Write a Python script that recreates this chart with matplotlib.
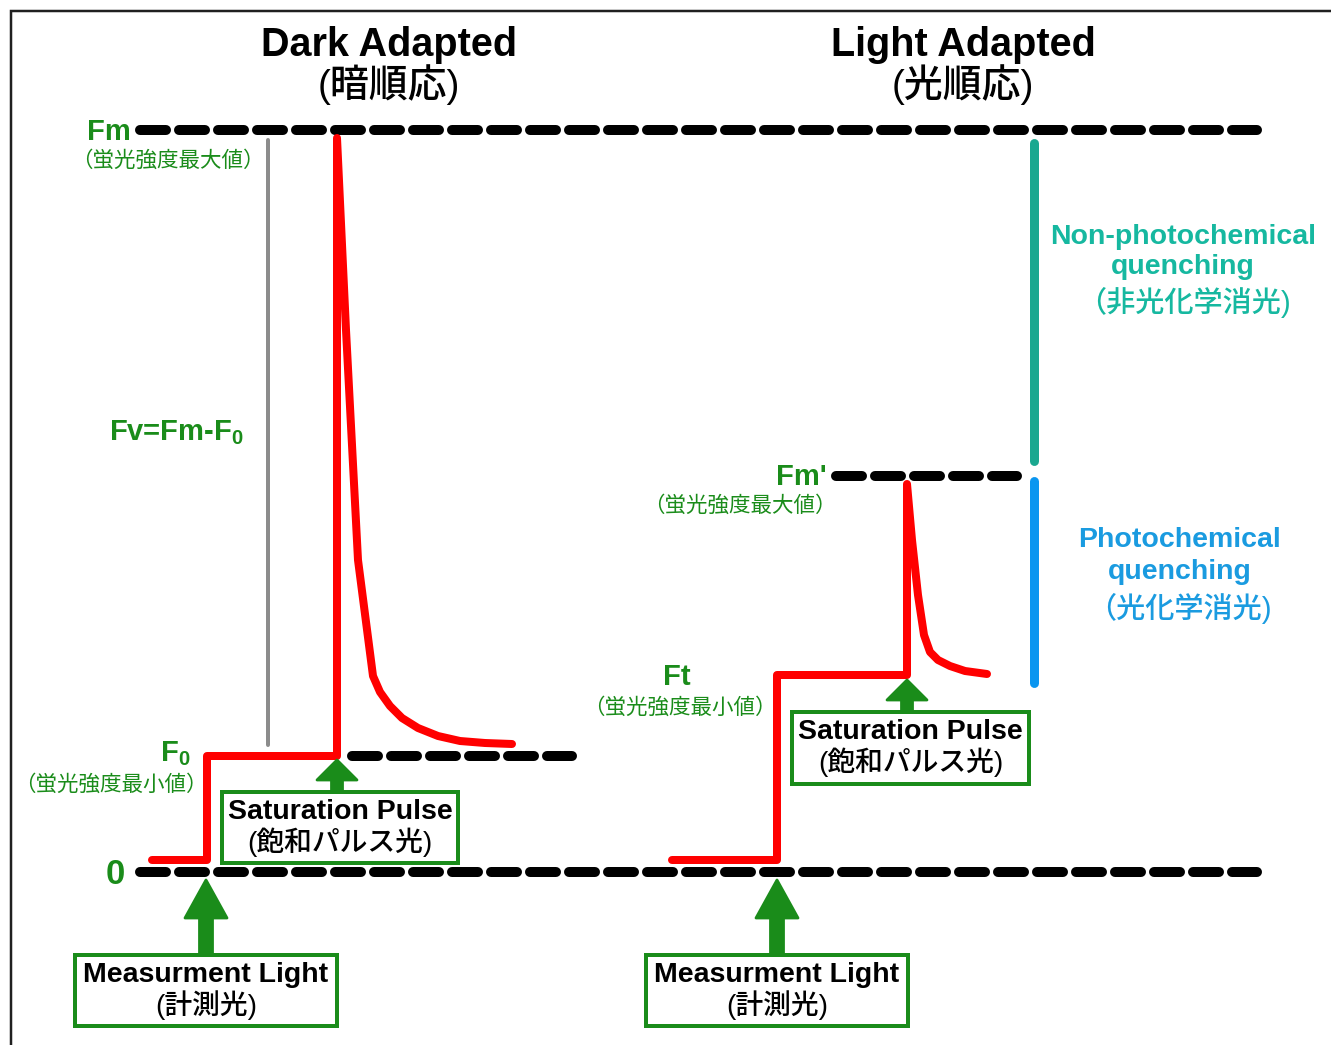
import matplotlib
matplotlib.use("Agg")
import matplotlib.pyplot as plt
from matplotlib.patches import FancyArrow, Rectangle

W, H = 1331, 1045

# fluorescence levels (image rows)
LEVEL_FM = 130
LEVEL_FM_PRIME = 476
LEVEL_FT = 675
LEVEL_F0 = 756
LEVEL_ZERO = 872

# dashed reference lines: (x start, x end, level)
dash_x0 = [140, 140, 352, 836]
dash_x1 = [1257, 1257, 572, 1017]
dash_y = [LEVEL_FM, LEVEL_ZERO, LEVEL_F0, LEVEL_FM_PRIME]

# red fluorescence traces
dark_x = [152, 207, 207, 337, 337, 346, 358, 373, 380, 390, 402, 418, 438, 460, 485, 512]
dark_y = [860, 860, 756, 756, 138, 330, 560, 676, 692, 706, 718, 728, 736, 741, 743, 744]
light_x = [672, 777, 777, 907, 907, 912, 918, 924, 930, 938, 950, 965, 987]
light_y = [860, 860, 675, 675, 484, 540, 595, 635, 652, 660, 666, 671, 674]

titles = [("Dark Adapted", "(暗順応)", 389), ("Light Adapted", "(光順応)", 963)]

# boxes: (left, top, right, bottom, line1, line2)
boxes = [
    (222, 792, 458, 863, "Saturation Pulse", "(飽和パルス光)"),
    (75, 955, 337, 1026, "Measurment Light", "(計測光)"),
    (792, 712, 1029, 784, "Saturation Pulse", "(飽和パルス光)"),
    (646, 955, 908, 1026, "Measurment Light", "(計測光)"),
]
# arrows: (x, base y, tip y, shaft width, head width, head length)
arrows = [
    (206, 955, 880, 13, 42, 38),
    (337, 794, 760, 11, 40, 20),
    (777, 955, 880, 13, 42, 38),
    (907, 714, 680, 11, 40, 20),
]

GREEN = "#1a8c1a"
TEAL = "#16b8a0"
TEAL_LINE = "#1aa890"
BLUE = "#1a9be0"
BLUE_LINE = "#0a96f0"
FONT = ["Liberation Sans", "Noto Sans CJK JP", "DejaVu Sans"]

plt.rcParams["font.family"] = FONT
plt.rcParams["mathtext.fontset"] = "custom"
plt.rcParams["mathtext.bf"] = "Liberation Sans:bold"
plt.rcParams["mathtext.rm"] = "Liberation Sans:bold"

fig = plt.figure(figsize=(W / 100, H / 100), dpi=100)
ax = fig.add_axes([0, 0, 1, 1])
ax.set_xlim(0, W)
ax.set_ylim(H, 0)
ax.axis("off")

px = 0.72  # pixels -> points at 100 dpi

# frame (only top and left edges fall inside the picture)
ax.plot([11, 11, W], [H, 11, 11], color="#202020", lw=2.5 * px, solid_joinstyle="miter")

for x0, x1, y in zip(dash_x0, dash_x1, dash_y):
    ax.plot([x0, x1], [y, y], color="black", lw=10 * px, linestyle=(0, (2.6, 1.3)),
            dash_capstyle="round", zorder=2)

# vertical range bars
ax.plot([268, 268], [140, 745], color="#8c8c8c", lw=4 * px, solid_capstyle="round")
ax.plot([1034, 1034], [143, 461], color=TEAL_LINE, lw=9 * px, solid_capstyle="round")
ax.plot([1034, 1034], [481, 683], color=BLUE_LINE, lw=9 * px, solid_capstyle="round")

ax.plot(dark_x, dark_y, color="red", lw=8 * px, solid_capstyle="round",
        solid_joinstyle="round", zorder=3)
ax.plot(light_x, light_y, color="red", lw=8 * px, solid_capstyle="round",
        solid_joinstyle="round", zorder=3)

for x, yb, yt, w, hw, hl in arrows:
    ax.add_patch(FancyArrow(x, yb, 0, yt - yb, width=w, head_width=hw, head_length=hl,
                            length_includes_head=True, color=GREEN, lw=2,
                            joinstyle="round", zorder=4))

for l, t, r, b, s1, s2 in boxes:
    ax.add_patch(Rectangle((l, t), r - l, b - t, facecolor="white", edgecolor=GREEN,
                           lw=4 * px, zorder=5))
    cx = (l + r) / 2
    ax.text(cx, t + 20, s1, ha="center", va="center", fontsize=20.5, fontweight="bold",
            color="black", zorder=6)
    ax.text(cx, t + 50, s2, ha="center", va="center", fontsize=20, fontweight="medium",
            color="black", zorder=6)

for s1, s2, cx in titles:
    ax.text(cx, 45, s1, ha="center", va="center", fontsize=28.5, fontweight="bold")
    ax.text(cx, 85, s2, ha="center", va="center", fontsize=28, fontweight="medium")

# level labels
ax.text(131, LEVEL_FM + 2, "Fm", ha="right", va="center", fontsize=21,
        fontweight="bold", color=GREEN)
ax.text(168, 161, "（蛍光強度最大値）", ha="center", va="center", fontsize=15.5, color=GREEN)
ax.text(176, 433, r"Fv=Fm-F$_\mathbf{0}$", ha="center", va="center", fontsize=21,
        fontweight="bold", color=GREEN)
ax.text(190, 754, r"F$_\mathbf{0}$", ha="right", va="center", fontsize=21,
        fontweight="bold", color=GREEN)
ax.text(111, 785, "（蛍光強度最小値）", ha="center", va="center", fontsize=15.5, color=GREEN)
ax.text(115, LEVEL_ZERO + 2, "0", ha="center", va="center", fontsize=25,
        fontweight="bold", color=GREEN)
ax.text(827, LEVEL_FM_PRIME + 1, "Fm'", ha="right", va="center", fontsize=21,
        fontweight="bold", color=GREEN)
ax.text(740, 506, "（蛍光強度最大値）", ha="center", va="center", fontsize=15.5, color=GREEN)
ax.text(677, LEVEL_FT + 2, "Ft", ha="center", va="center", fontsize=21,
        fontweight="bold", color=GREEN)
ax.text(680, 708, "（蛍光強度最小値）", ha="center", va="center", fontsize=15.5, color=GREEN)

# quenching labels
ax.text(1183, 237, "Non-photochemical", ha="center", va="center", fontsize=20.5,
        fontweight="bold", color=TEAL)
ax.text(1183, 267, "quenching", ha="center", va="center", fontsize=20.5,
        fontweight="bold", color=TEAL)
ax.text(1184, 302, "（非光化学消光)", ha="center", va="center", fontsize=21,
        fontweight="medium", color=TEAL)
ax.text(1180, 540, "Photochemical", ha="center", va="center", fontsize=20.5,
        fontweight="bold", color=BLUE)
ax.text(1180, 572, "quenching", ha="center", va="center", fontsize=20.5,
        fontweight="bold", color=BLUE)
ax.text(1179, 608, "（光化学消光)", ha="center", va="center", fontsize=21,
        fontweight="medium", color=BLUE)

fig.savefig("out.png", dpi=100, facecolor="white")
